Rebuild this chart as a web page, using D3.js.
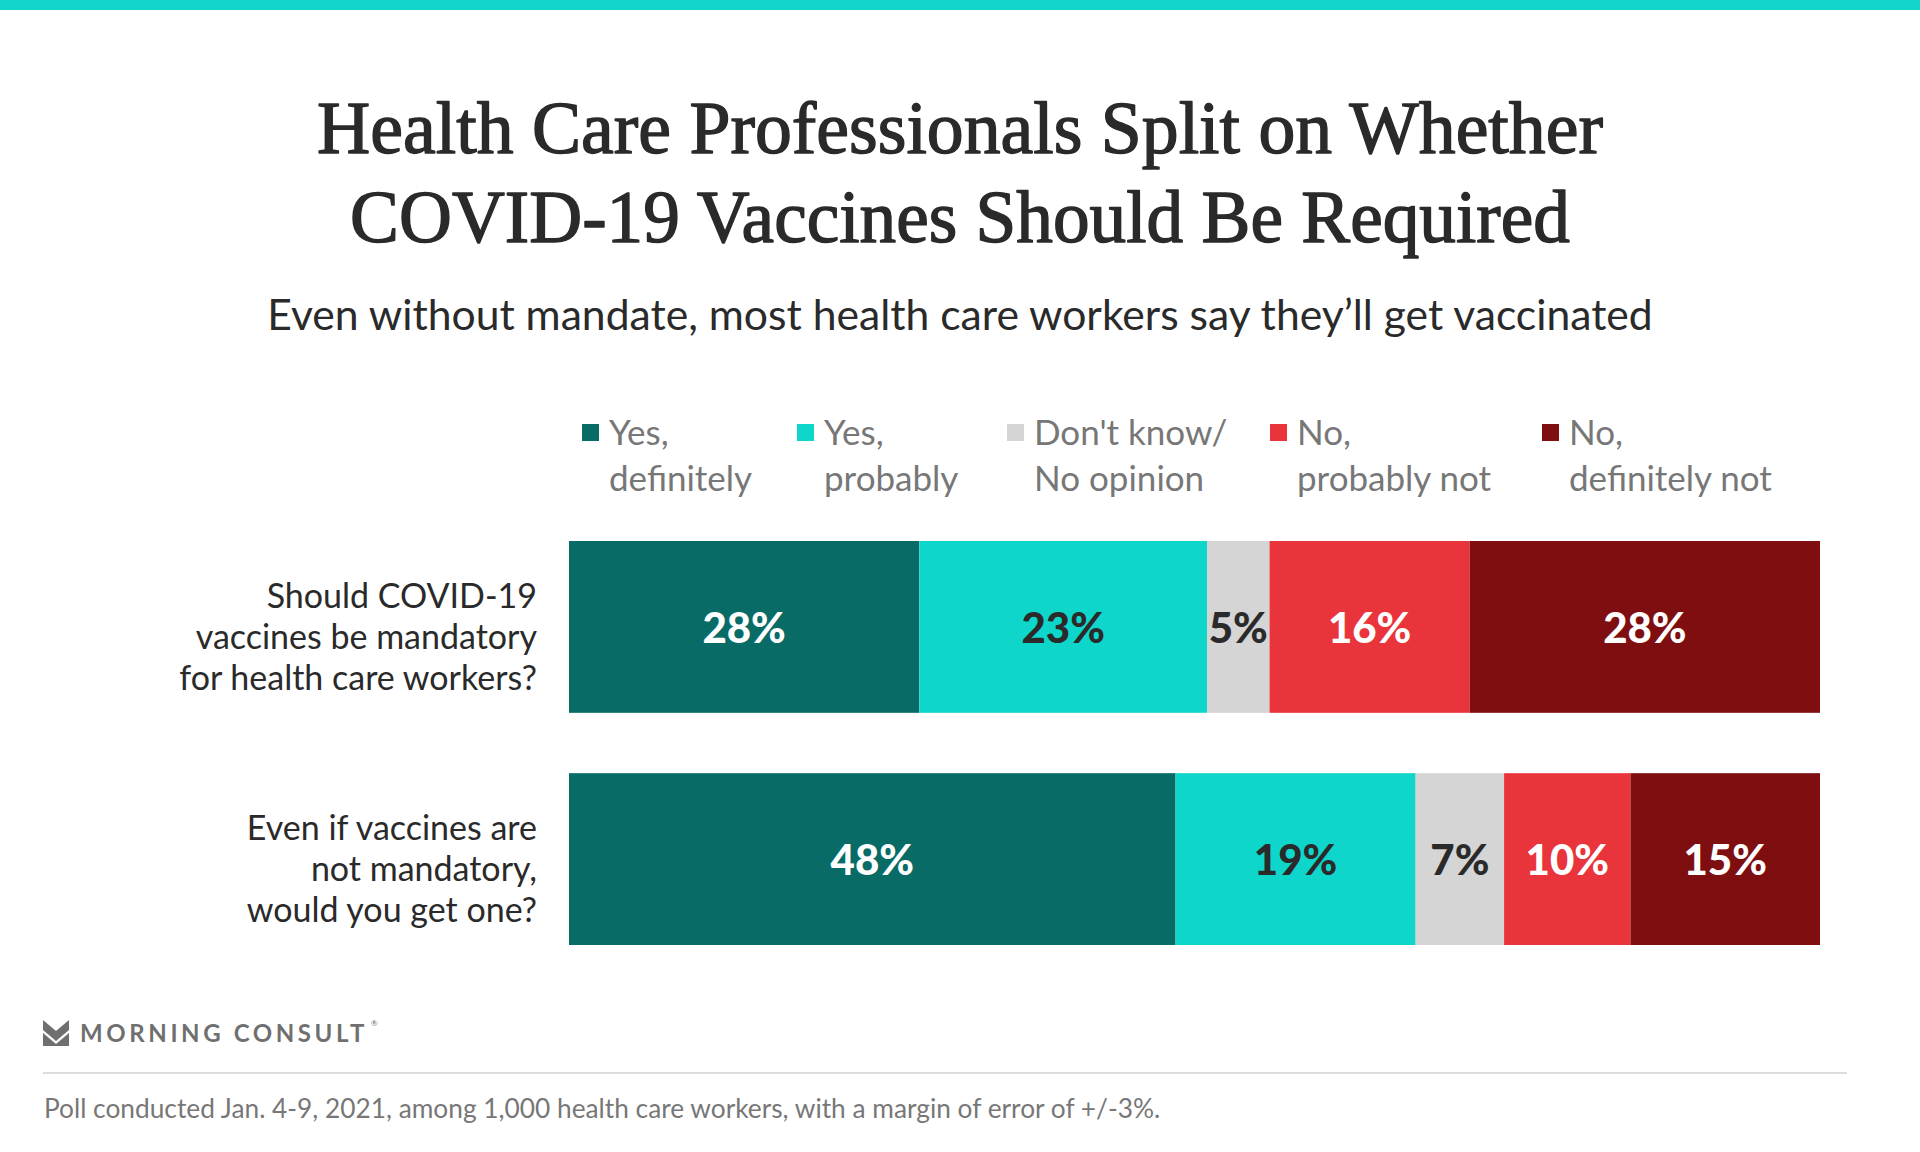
<!DOCTYPE html>
<html><head><meta charset="utf-8">
<script src="https://cdn.jsdelivr.net/npm/d3@7"></script>
<style>
html,body{margin:0;padding:0;background:#fff;}
svg{display:block;}
</style></head>
<body>
<svg id="chart" width="1920" height="1152"></svg>
<script>
// ---- Data ----
const categories = [
  ["Should COVID-19", "vaccines be mandatory", "for health care workers?"],
  ["Even if vaccines are", "not mandatory,", "would you get one?"]
];
const seriesNames = ["Yes, definitely", "Yes, probably", "Don't know/ No opinion", "No, probably not", "No, definitely not"];
const legendLines = [["Yes,", "definitely"], ["Yes,", "probably"], ["Don't know/", "No opinion"], ["No,", "probably not"], ["No,", "definitely not"]];
const row1Values = [28, 23, 5, 16, 28];
const row2Values = [48, 19, 7, 10, 15];
const colors = ["#086b66", "#0fd6cb", "#d5d5d5", "#e8343a", "#7f0e10"];
const labelColors = ["#ffffff", "#2a2a2a", "#2a2a2a", "#ffffff", "#ffffff"];
const titleLines = ["Health Care Professionals Split on Whether", "COVID-19 Vaccines Should Be Required"];
const subtitle = "Even without mandate, most health care workers say they\u2019ll get vaccinated";
const footnote = "Poll conducted Jan. 4-9, 2021, among 1,000 health care workers, with a margin of error of +/-3%.";
const brand = "MORNING CONSULT";

const rows = [row1Values, row2Values].map((vals, i) => {
  const o = {key: i};
  seriesNames.forEach((s, j) => o[s] = vals[j]);
  return o;
});

const svg = d3.select("#chart");
const W = 1920;
const SANS = "Lato, 'Open Sans', sans-serif";

function fitWidth(sel, target) {
  const node = sel.node();
  const fs = parseFloat(sel.attr("font-size"));
  const len = node.getComputedTextLength();
  sel.attr("font-size", fs * target / len);
}

// Top band
svg.append("rect").attr("x", 0).attr("y", 0).attr("width", W).attr("height", 10).attr("fill", "#12d6cc");

// Title
const titleBase = [153, 242];
const titleWidths = [1286, 1220];
titleLines.forEach((t, i) => {
  const s = svg.append("text").attr("x", W / 2).attr("y", titleBase[i])
    .attr("text-anchor", "middle")
    .attr("font-family", "'Liberation Serif', 'DejaVu Serif', serif")
    .attr("font-size", 72).attr("fill", "#2a2a2a")
    .attr("stroke", "#2a2a2a").attr("stroke-width", 1.4).attr("stroke-linejoin", "round")
    .text(t);
  fitWidth(s, titleWidths[i]);
});
// Subtitle
const sub = svg.append("text").attr("x", W / 2).attr("y", 330).attr("text-anchor", "middle")
  .attr("font-family", SANS).attr("font-size", 38).attr("fill", "#2a2a2a").text(subtitle);
fitWidth(sub, 1386);

// Scales
const x = d3.scaleLinear().domain([0, 1]).range([569, 1820]);
const y = d3.scaleBand().domain(rows.map(d => d.key)).range([541, 945]).paddingInner(0.26).paddingOuter(0);

const stack = d3.stack().keys(seriesNames).offset(d3.stackOffsetExpand);
const stacked = stack(rows);

const g = svg.append("g");
stacked.forEach((layer, si) => {
  const lg = g.append("g");
  lg.selectAll("rect").data(layer).join("rect")
    .attr("x", d => x(d[0])).attr("y", d => y(d.data.key))
    .attr("width", d => x(d[1]) - x(d[0])).attr("height", y.bandwidth())
    .attr("fill", colors[si]);
  lg.selectAll("text").data(layer).join("text")
    .attr("x", d => (x(d[0]) + x(d[1])) / 2)
    .attr("y", d => y(d.data.key) + y.bandwidth() / 2 + 16)
    .attr("text-anchor", "middle")
    .attr("font-family", SANS).attr("font-weight", 900)
    .attr("font-size", 42).attr("fill", labelColors[si])
    .text(d => d.data[layer.key] + "%");
});

// Category labels (one text per line)
categories.forEach((lines, i) => {
  const cy = y(i) + y.bandwidth() / 2;
  lines.forEach((ln, k) => {
    svg.append("text").attr("text-anchor", "end")
      .attr("font-family", SANS).attr("font-size", 34).attr("fill", "#2a2a2a")
      .attr("x", 537).attr("y", cy + 22 + (k - 1) * 41).text(ln);
  });
});

// Legend
const legendSquareX = [582, 797, 1007, 1270, 1542];
legendLines.forEach((lines, i) => {
  svg.append("rect").attr("x", legendSquareX[i]).attr("y", 424).attr("width", 17).attr("height", 17).attr("fill", colors[i]);
  lines.forEach((ln, k) => {
    svg.append("text").attr("font-family", SANS).attr("font-size", 35).attr("fill", "#777")
      .attr("x", legendSquareX[i] + 27).attr("y", 445 + k * 46).text(ln);
  });
});

// Brand logo
svg.append("path")
  .attr("d", "M43,1020 L56,1031 L69,1020 L69,1030 L56,1041 L43,1030 Z M43,1033 L56,1044 L69,1033 L69,1046 L43,1046 Z")
  .attr("fill", "#6f6f6f");
svg.append("text").attr("x", 80).attr("y", 1042)
  .attr("font-family", SANS).attr("font-weight", "bold")
  .attr("font-size", 24).attr("letter-spacing", 3.6).attr("fill", "#6f6f6f").text(brand);
svg.append("text").attr("x", 371).attr("y", 1026).attr("font-family", SANS).attr("font-size", 8).attr("fill", "#6f6f6f").text("\u00ae");

// Separator
svg.append("line").attr("x1", 43).attr("x2", 1847).attr("y1", 1073).attr("y2", 1073).attr("stroke", "#dcdcdc").attr("stroke-width", 2);

// Footnote
const fn = svg.append("text").attr("x", 44).attr("y", 1118)
  .attr("font-family", SANS).attr("font-size", 23).attr("fill", "#777").text(footnote);
fitWidth(fn, 1117);
</script>
</body></html>
